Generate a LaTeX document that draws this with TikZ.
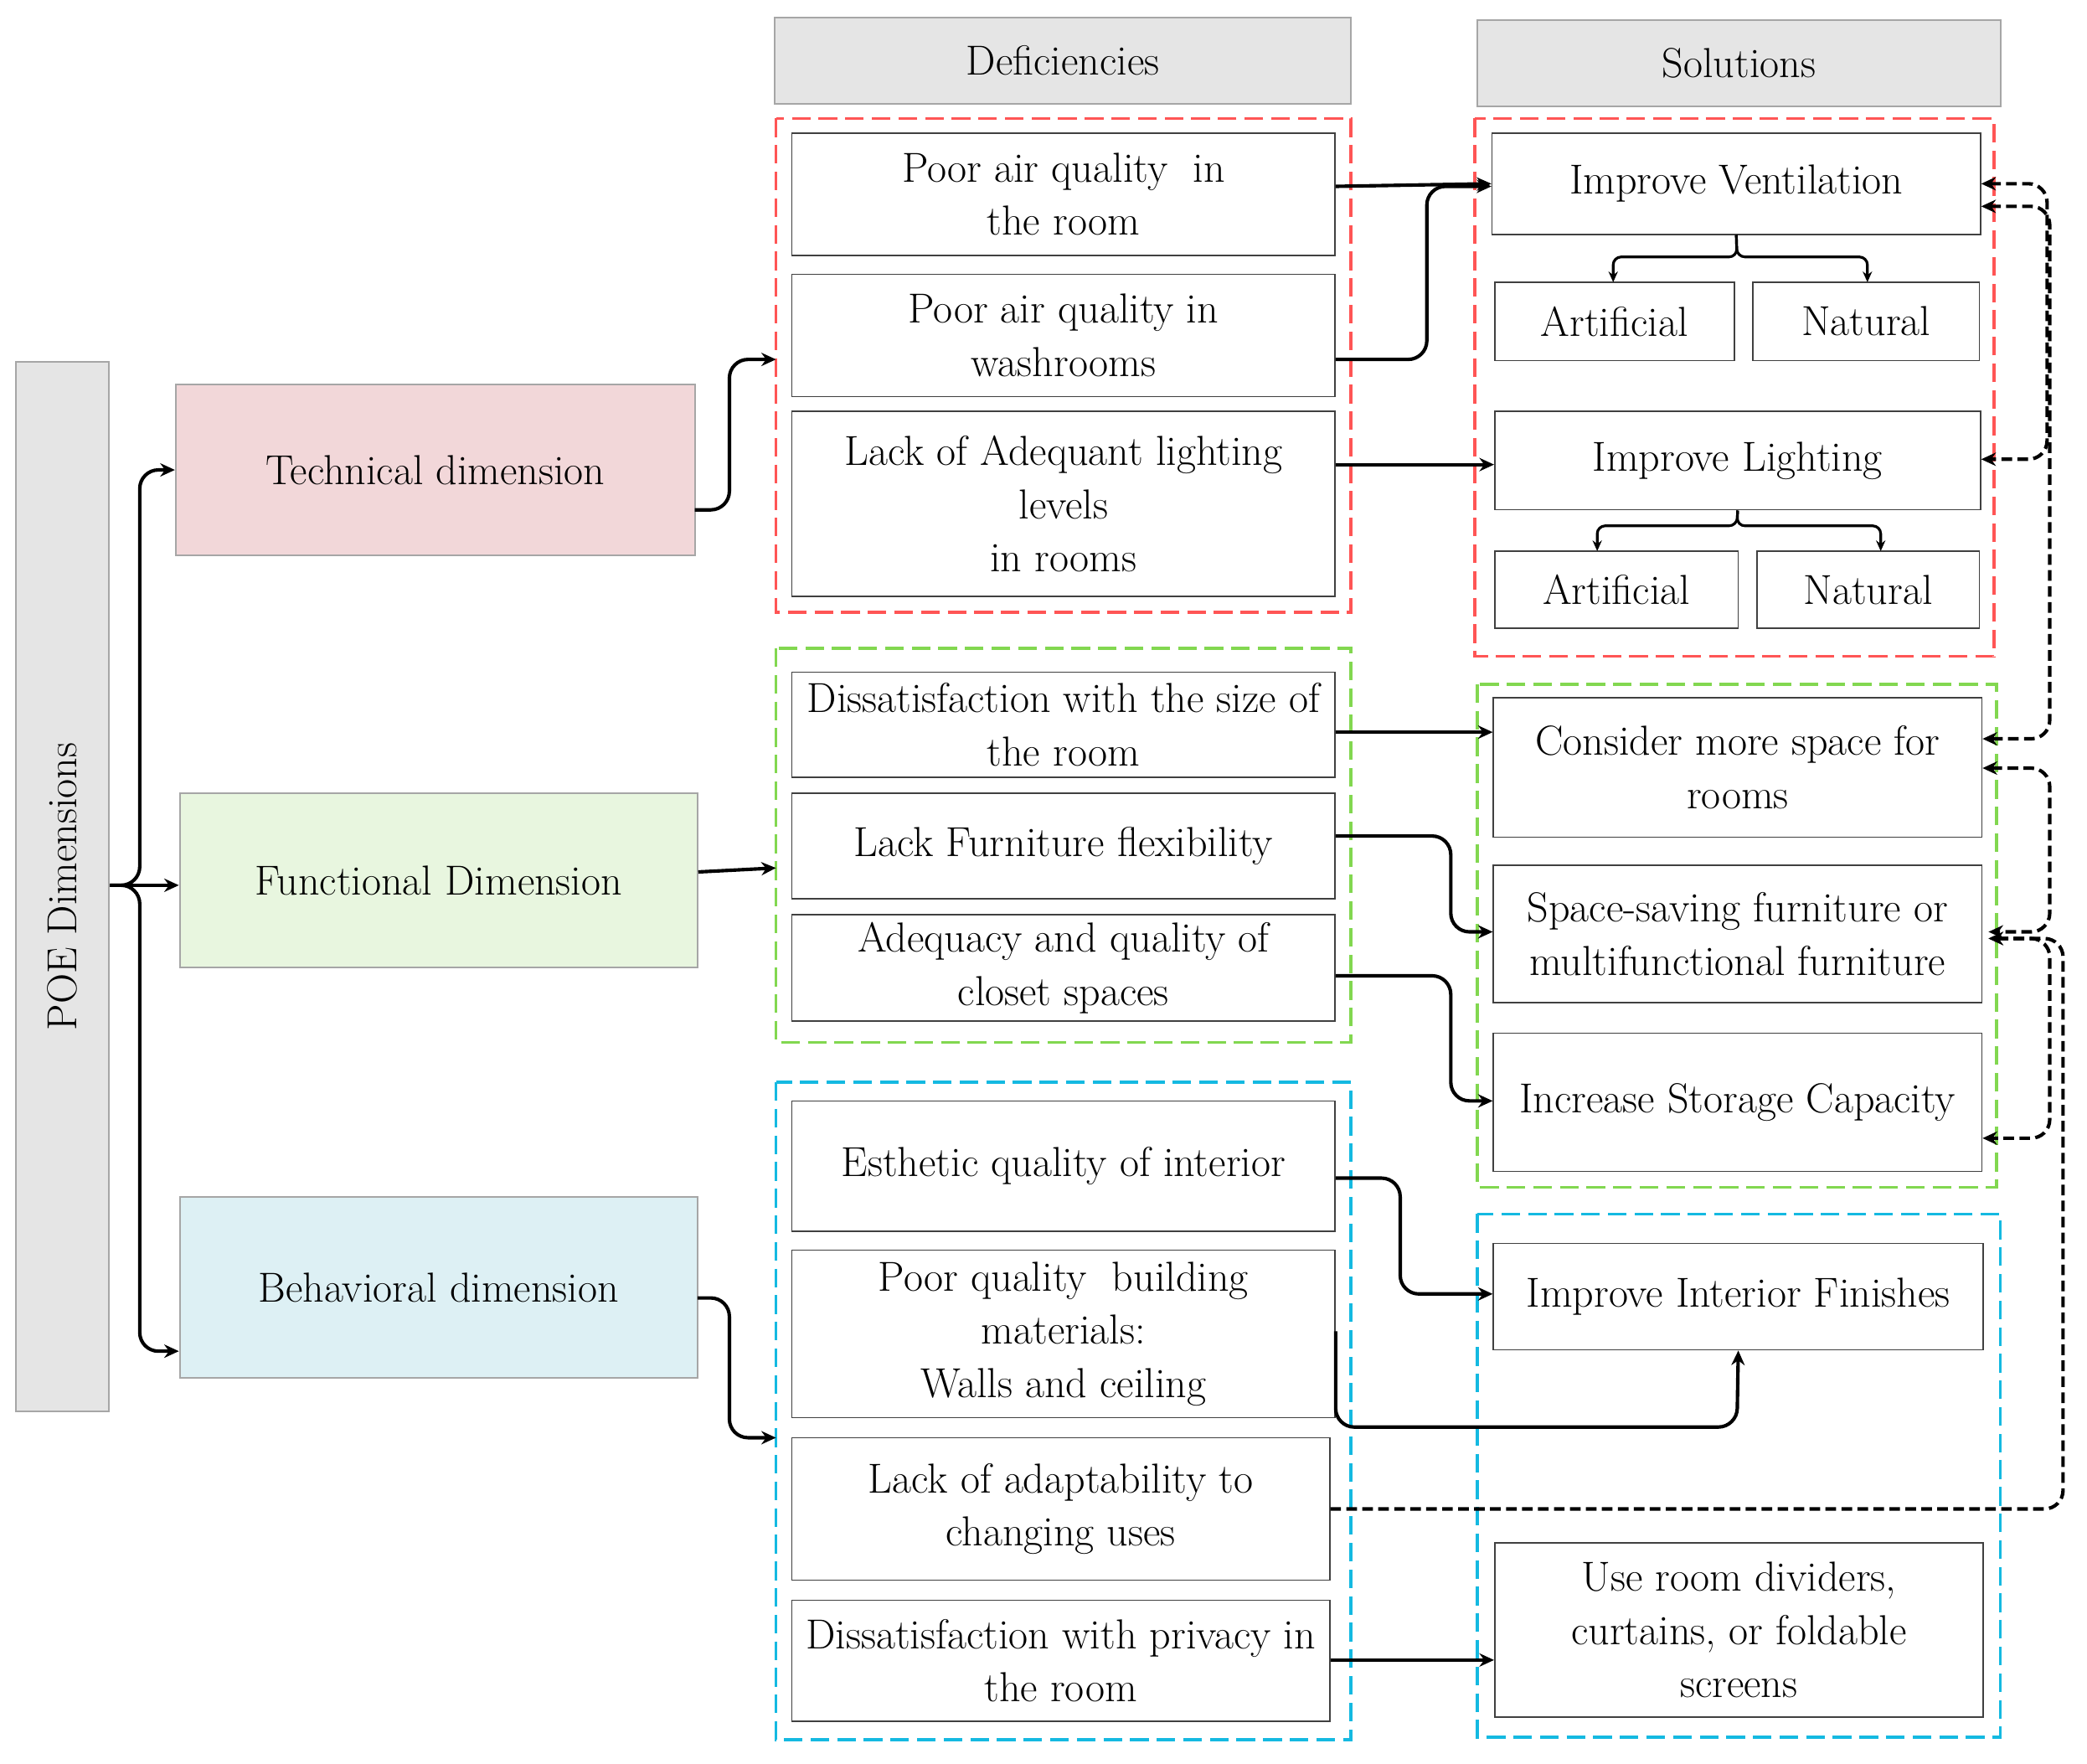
\documentclass[tikz,border=0pt]{standalone}
\usetikzlibrary{arrows.meta}
\begin{document}
\begin{tikzpicture}[x=1pt,y=-1pt,
  bx/.style={draw=black!75,line width=1pt,align=center,inner sep=0pt},
  hd/.style={draw=black!35,fill=black!10,line width=1.2pt,align=center,inner sep=0pt},
  grp/.style={dashed,dash pattern=on 14pt off 6pt,line width=2.2pt},
  con/.style={line width=2.6pt,-{Stealth[length=11pt,width=10pt]},rounded corners=14pt},
  dcon/.style={con,dashed,dash pattern=on 8pt off 4pt,{Stealth[length=11pt,width=10pt]}-{Stealth[length=11pt,width=10pt]}},
  font=\fontsize{31.5}{40}\selectfont]
\useasboundingbox (0,0) rectangle (1568,1325);
% groups
\draw[grp,draw={rgb,255:red,255;green,85;blue,85}] (583,89) rectangle (1015,460);
\draw[grp,draw={rgb,255:red,130;green,215;blue,80}] (583,487) rectangle (1015,783);
\draw[grp,draw={rgb,255:red,20;green,185;blue,225}] (583,813) rectangle (1015,1307);
\draw[grp,draw={rgb,255:red,255;green,85;blue,85}] (1108,89) rectangle (1498,493);
\draw[grp,draw={rgb,255:red,130;green,215;blue,80}] (1110,514) rectangle (1500,892);
\draw[grp,draw={rgb,255:red,20;green,185;blue,225}] (1110,912) rectangle (1503,1305);
% left
\node[hd,minimum width=70pt,minimum height=788pt] (poe) at (47,666) {};
\node[rotate=90] at (poe) {POE Dimensions};
\node[hd,fill={rgb,255:red,242;green,215;blue,217},minimum width=390pt,minimum height=128pt] (tech) at (327,353) {Technical dimension};
\node[hd,fill={rgb,255:red,232;green,246;blue,223},minimum width=389pt,minimum height=131pt] (func) at (329.5,661.5) {Functional Dimension};
\node[hd,fill={rgb,255:red,221;green,240;blue,244},minimum width=389pt,minimum height=136pt] (beh) at (329.5,967) {Behavioral dimension};
\node[hd,minimum width=433pt,minimum height=65pt] (hdef) at (798.5,45.5) {Deficiencies};
\node[hd,minimum width=393pt,minimum height=65pt] (hsol) at (1306.5,47.5) {Solutions};
% deficiencies
\node[bx,minimum width=408pt,minimum height=92pt] (d1) at (799,146) {Poor air quality\ \ in\\the room};
\node[bx,minimum width=408pt,minimum height=92pt] (d2) at (799,252) {Poor air quality in\\washrooms};
\node[bx,minimum width=408pt,minimum height=139pt] (d3) at (799,378.5) {Lack of Adequant lighting\\levels\\in rooms};
\node[bx,minimum width=408pt,minimum height=79pt] (d4) at (799,544.5) {Dissatisfaction with the size of\\the room};
\node[bx,minimum width=408pt,minimum height=79pt] (d5) at (799,635.5) {Lack Furniture flexibility};
\node[bx,minimum width=408pt,minimum height=80pt] (d6) at (799,727) {Adequacy and quality of\\closet spaces};
\node[bx,minimum width=408pt,minimum height=98pt] (d7) at (799,876) {Esthetic quality of interior};
\node[bx,minimum width=408pt,minimum height=126pt] (d8) at (799,1002) {Poor quality\ \ building\\materials:\\Walls and ceiling};
\node[bx,minimum width=404pt,minimum height=107pt] (d9) at (797,1133.5) {Lack of adaptability to\\changing uses};
\node[bx,minimum width=404pt,minimum height=91pt] (d10) at (797,1247.5) {Dissatisfaction with privacy in\\the room};
% solutions
\node[bx,minimum width=367pt,minimum height=76pt] (s1) at (1304.5,138) {Improve Ventilation};
\node[bx,minimum width=180pt,minimum height=59pt] (a1) at (1213,241.5) {Artificial};
\node[bx,minimum width=170pt,minimum height=59pt] (n1) at (1402,241.5) {Natural};
\node[bx,minimum width=365pt,minimum height=74pt] (s2) at (1305.5,346) {Improve Lighting};
\node[bx,minimum width=183pt,minimum height=58pt] (a2) at (1214.5,443) {Artificial};
\node[bx,minimum width=167pt,minimum height=58pt] (n2) at (1403.5,443) {Natural};
\node[bx,minimum width=367pt,minimum height=105pt] (s3) at (1305.5,576.5) {Consider more space for\\rooms};
\node[bx,minimum width=367pt,minimum height=103pt] (s4) at (1305.5,701.5) {Space-saving furniture or\\multifunctional furniture};
\node[bx,minimum width=367pt,minimum height=104pt] (s5) at (1305.5,828) {Increase Storage Capacity};
\node[bx,minimum width=368pt,minimum height=80pt] (s6) at (1306,974) {Improve Interior Finishes};
\node[bx,minimum width=367pt,minimum height=131pt] (s7) at (1306.5,1224.5) {Use room dividers,\\curtains, or foldable\\screens};
% left connectors
\coordinate (pj) at (105,665);
\draw[con] (poe.east|-pj) -- (pj) |- (tech.west);
\draw[con] (poe.east|-pj) -- (func.west|-pj);
\draw[con] (poe.east|-pj) -- (pj) |- (beh.west|-0,1015);
\draw[con] (522,383) -| (548,270) -- (583,270);
\draw[con] (func.east|-0,655) -- (583,652);
\draw[con] (524,975) -| (548,1080) -- (583,1080);
% deficiency to solution
\draw[con] (d1.east|-0,140) -- (s1.west);
\draw[con] (d2.east|-0,270) -| (1072,140) -- (s1.west|-0,140);
\draw[con] (d3.east|-0,349) -- (s2.west|-0,349);
\draw[con] (d4.east|-0,550) -- (s3.west|-0,550);
\draw[con] (d5.east|-0,628) -| (1090,700) -- (s4.west|-0,700);
\draw[con] (d6.east|-0,733) -| (1090,827) -- (s5.west|-0,827);
\draw[con] (d7.east|-0,885) -| (1052,972) -- (s6.west|-0,972);
\draw[con] (d8.east|-0,1000) |- (1305,1072) -- (s6.south);
\draw[con] (d10.east|-0,1247) -- (s7.west|-0,1247);
% sub arrows
\draw[con,rounded corners=6pt,line width=2pt,-{Stealth[length=8pt,width=7pt]}] (s1.south) -- (1305,193) -| (1212,212);
\draw[con,rounded corners=6pt,line width=2pt,-{Stealth[length=8pt,width=7pt]}] (s1.south) -- (1305,193) -| (1403,212);
\draw[con,rounded corners=6pt,line width=2pt,-{Stealth[length=8pt,width=7pt]}] (s2.south) -- (1305,395) -| (1200,414);
\draw[con,rounded corners=6pt,line width=2pt,-{Stealth[length=8pt,width=7pt]}] (s2.south) -- (1305,395) -| (1413,414);
% dashed
\draw[dcon] (s1.east|-0,138) -| (1538,345) -- (s2.east|-0,345);
\draw[dcon] (s1.east|-0,155) -| (1540,555) -- (s3.east|-0,555);
\draw[dcon] (s3.east|-0,577) -| (1540,700) -- (1494,700);
\draw[dcon] (1494,705) -| (1540,855) -- (s5.east|-0,855);
\draw[con,dashed,dash pattern=on 8pt off 4pt] (d9.east) -| (1550,705) -- (1494,705);
\end{tikzpicture}
\end{document}
